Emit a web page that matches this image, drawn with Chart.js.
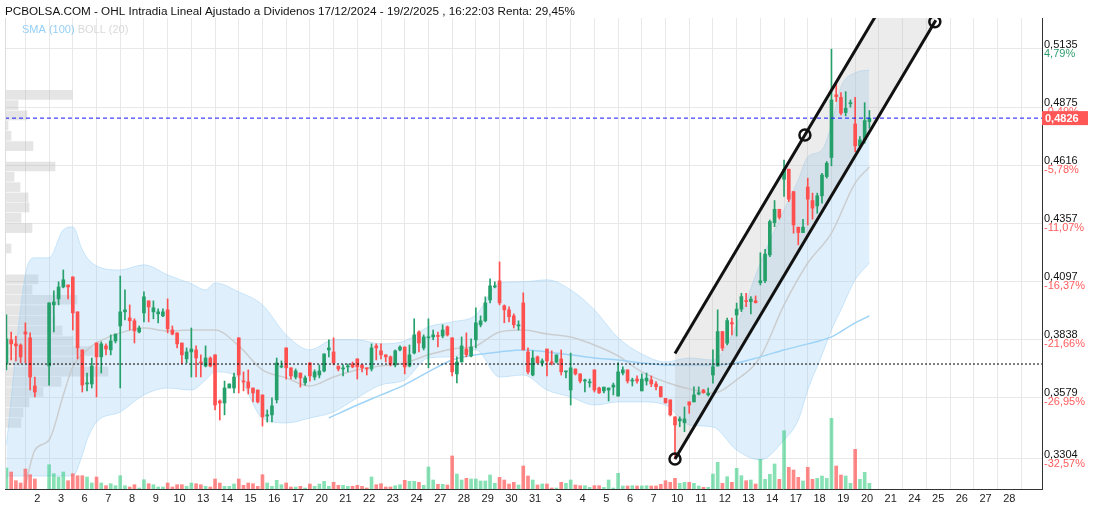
<!DOCTYPE html>
<html>
<head>
<meta charset="utf-8">
<script src="https://cdn.jsdelivr.net/npm/chart.js@4.4.0/dist/chart.umd.min.js"></script>
<style>
    html, body { margin: 0; padding: 0; background: #fff; }
</style>
</head>
<body>
<canvas id="grafico" width="1096" height="512"></canvas>
<script>
// Datos OHL intradia (5 velas por sesion), primer tramo = -4
const primerTramo = -4

const apertura = [
    .3728, .3836, .3818, .3813, .3871, .3845, .3630, null, null,
    .3719, .3992, .4019, .4072, .4081, .4117, .3961, .3791, .3639, .3639,
    .3822, .3760, .3809, .3791, .3831, .3898, .3961, .3934, .3921, .3871,
    .3956, .4010, .3961, .3952, .3943, .3970, .3880, .3867, .3822, .3751,
    .3782, .3791, .3737, .3719, .3755, .3769, .3563, .3554, .3621, .3621,
    .3845, .3652, .3648, .3621, .3612, .3590, .3496, .3501, .3568, .3715,
    .3800, .3711, .3670, .3688, .3644, .3733, .3670, .3679, .3697, .3791,
    .3782, .3719, .3706, .3715, .3728, .3751, .3724, .3711, .3706, .3809,
    .3787, .3769, .3760, .3724, .3791, .3804, .3719, .3777, .3871, .3800,
    .3845, .3849, .3853, .3853, .3894, .3845, .3684, .3737, .3795, .3764,
    .3836, .3903, .3921, .4014, .4072, .4099, .3988, .3970, .3943, .3898,
    .4001, .3782, .3679, .3760, .3733, .3795, .3737, .3737, .3751, .3693,
    .3612, .3706, .3684, .3652, .3644, .3702, .3621, .3608, .3612, .3625,
    .3585, .3688, .3702, .3652, .3661, .3608, .3652, .3657, .3639, .3627,
    .3575, .3568, .3492, .3474, .3466, .3559, .3559, .3594, .3612, .3590,
    .3679, .3719, .3873, .3821, .3913, .3947, .3973, .4011, .4007, .4010,
    .4091, .4100, .4215, .4359, .4419, .4553, .4598, .4498, .4339, .4315,
    .4518, .4458, .4434, .4479, .4565, .4650, .4930, .4919, .4851, .4890,
    .4800, .4702, .4729, .4810
]
const maximo = [
    .3948, .3871, .3853, .3818, .3912, .3867, .3670, null, null,
    .4001, .4055, .4095, .4148, .4081, .4117, .3961, .3791, .3688, .3755,
    .3822, .3827, .3818, .3858, .3862, .4121, .4059, .3992, .3930, .3898,
    .4050, .4010, .4010, .3974, .3974, .4019, .3898, .3867, .3822, .3800,
    .3889, .3809, .3769, .3809, .3760, .3769, .3568, .3652, .3639, .3688,
    .3845, .3693, .3702, .3621, .3612, .3590, .3523, .3577, .3755, .3742,
    .3800, .3711, .3706, .3688, .3675, .3733, .3702, .3724, .3773, .3836,
    .3845, .3719, .3724, .3728, .3737, .3751, .3724, .3711, .3818, .3818,
    .3818, .3769, .3764, .3791, .3809, .3804, .3813, .3930, .3876, .3858,
    .3930, .3880, .3871, .3903, .3898, .3845, .3760, .3849, .3867, .3840,
    .3979, .3943, .4028, .4108, .4095, .4184, .3992, .3983, .3952, .3921,
    .4046, .3800, .3787, .3764, .3751, .3795, .3787, .3769, .3791, .3697,
    .3777, .3706, .3684, .3661, .3661, .3702, .3625, .3625, .3621, .3643,
    .3733, .3715, .3702, .3665, .3675, .3684, .3688, .3675, .3650, .3627,
    .3575, .3568, .3492, .3492, .3536, .3559, .3626, .3626, .3615, .3621,
    .3791, .3970, .3873, .3933, .3933, .4000, .4044, .4044, .4029, .4032,
    .4225, .4240, .4371, .4458, .4419, .4639, .4598, .4498, .4339, .4374,
    .4558, .4491, .4491, .4580, .4632, .5134, .4989, .4940, .4944, .4907,
    .4919, .4743, .4895, .4860
]
const minimo = [
    .3702, .3746, .3742, .3733, .3733, .3612, .3581, null, null,
    .3634, .3871, .3992, .4068, .4019, .3880, .3751, .3603, .3608, .3621,
    .3581, .3688, .3769, .3769, .3822, .3621, .3925, .3880, .3822, .3867,
    .3916, .3916, .3930, .3912, .3939, .3867, .3858, .3800, .3728, .3733,
    .3670, .3670, .3670, .3715, .3715, .3523, .3478, .3501, .3621, .3599,
    .3599, .3608, .3594, .3559, .3554, .3451, .3469, .3469, .3554, .3711,
    .3661, .3661, .3661, .3625, .3634, .3652, .3657, .3666, .3693, .3760,
    .3724, .3697, .3675, .3693, .3711, .3661, .3693, .3679, .3697, .3746,
    .3751, .3737, .3719, .3715, .3787, .3684, .3715, .3773, .3782, .3791,
    .3711, .3836, .3804, .3845, .3853, .3675, .3644, .3737, .3760, .3760,
    .3800, .3894, .3916, .4001, .4068, .3992, .3912, .3916, .3889, .3880,
    .3791, .3684, .3675, .3733, .3719, .3675, .3724, .3733, .3679, .3666,
    .3545, .3679, .3644, .3603, .3625, .3603, .3597, .3599, .3563, .3590,
    .3585, .3679, .3643, .3630, .3643, .3608, .3634, .3627, .3612, .3580,
    .3553, .3496, .3304, .3448, .3426, .3508, .3559, .3590, .3597, .3585,
    .3642, .3719, .3788, .3813, .3858, .3853, .3962, .3984, .3952, .4000,
    .4081, .4091, .4207, .4341, .4375, .4476, .4453, .4312, .4260, .4315,
    .4349, .4375, .4401, .4446, .4558, .4613, .4900, .4840, .4836, .4875,
    .4676, .4692, .4714, .4781
]
const cierre = [
    .3840, .3818, .3809, .3760, .3862, .3670, .3603, null, null,
    .4001, .4005, .4072, .4104, .4072, .3956, .3800, .3634, .3644, .3719,
    .3760, .3818, .3795, .3831, .3862, .3961, .3970, .3921, .3876, .3889,
    .4028, .3983, .3979, .3961, .3961, .3885, .3862, .3818, .3769, .3782,
    .3795, .3755, .3733, .3755, .3719, .3545, .3554, .3621, .3639, .3670,
    .3679, .3648, .3621, .3599, .3559, .3492, .3501, .3541, .3733, .3719,
    .3711, .3675, .3697, .3666, .3666, .3675, .3693, .3697, .3773, .3800,
    .3733, .3706, .3711, .3719, .3715, .3715, .3711, .3706, .3800, .3800,
    .3769, .3760, .3728, .3787, .3804, .3715, .3769, .3858, .3822, .3849,
    .3849, .3858, .3851, .3880, .3858, .3693, .3737, .3809, .3769, .3804,
    .3912, .3921, .4001, .4077, .4077, .4001, .3970, .3939, .3903, .3903,
    .3791, .3693, .3755, .3733, .3742, .3742, .3733, .3769, .3693, .3697,
    .3711, .3684, .3652, .3657, .3648, .3612, .3599, .3625, .3621, .3634,
    .3693, .3702, .3652, .3657, .3652, .3661, .3665, .3639, .3627, .3582,
    .3555, .3501, .3456, .3483, .3483, .3545, .3590, .3600, .3600, .3597,
    .3716, .3873, .3799, .3922, .3907, .3973, .4029, .4007, .4018, .4002,
    .4100, .4219, .4364, .4419, .4383, .4598, .4464, .4349, .4315, .4339,
    .4464, .4424, .4479, .4572, .4625, .4907, .4922, .4848, .4870, .4895,
    .4702, .4729, .4815, .4826
]
// volumen en miles de titulos
const volumen = [
    210, 170, 83, 60, 200, 143, 100, null, null,
    243, 153, 120, 170, 83, 153, 133, 133, 120, 60,
    120, 60, 33, 53, 33, 133, 33, 20, 43, 10,
    93, 53, 43, 20, 20, 60, 20, 43, 43, 27,
    60, 53, 43, 27, 20, 100, 60, 27, 27, 50,
    100, 37, 60, 53, 27, 143, 60, 27, 87, 43,
    60, 20, 20, 27, 10, 50, 27, 50, 77, 27,
    67, 37, 37, 27, 27, 37, 27, 10, 120, 43,
    53, 20, 20, 33, 43, 87, 77, 77, 67, 37,
    220, 90, 47, 47, 40, 330, 150, 90, 107, 100,
    100, 80, 80, 140, 57, 117, 90, 50, 67, 40,
    230, 130, 90, 40, 50, 50, 10, 10, 67, 57,
    90, 40, 33, 33, 17, 33, 33, 17, 90, 10,
    157, 30, 30, 33, 30, 30, 33, 30, 30, 47,
    83, 67, 107, 57, 67, 67, 57, 30, 17, 17,
    150, 267, 57, 123, 67, 207, 133, 83, 90, 50,
    297, 97, 147, 250, 97, 583, 217, 190, 117, 80,
    217, 97, 107, 130, 107, 707, 230, 140, 130, 57,
    397, 97, 167, 57
]

const dias = ['2', '3', '6', '7', '8', '9', '10', '13', '14', '15', '16', '17', '20', '21', '22', '23', '24', '27', '28', '29', '30', '31',
    '3', '4', '5', '6', '7', '10', '11', '12', '13', '14', '17', '18', '19', '20', '21', '24', '25', '26', '27', '28']

const precioTicks = [0.5135, 0.4875, 0.4616, 0.4357, 0.4097, 0.3838, 0.3579, 0.3304]
const rentaTicks = ['4,79%', '-0,49%', '-5,78%', '-11,07%', '-16,37%', '-21,66%', '-26,95%', '-32,57%']
const ultimoPrecio = 0.4826
const precioReferencia = 0.3728

// Bandas de Bollinger (20)
const bollTramos = [-4, 0, 2, 5, 8, 10, 12, 13, 15, 20, 25, 30, 35, 38, 40, 45, 50, 55, 60, 65, 70, 75, 80, 85, 90, 95,
    100, 105, 110, 115, 120, 125, 130, 135, 140, 145, 150, 155, 160, 163, 165, 168, 170, 172, 175, 178]
const bollSup = [.3367, .4126, .4202, .4202, .4327, .4340, .4238, .4202, .4166, .4148, .4171, .4126, .4086, .4059, .4090,
    .4050, .3992, .3858, .3791, .3836, .3836, .3818, .3831, .3894, .3916, .3947, .4090, .4095, .4104, .4059, .3970,
    .3845, .3773, .3737, .3755, .3746, .3903, .4179, .4416, .4550, .4653, .4684, .4796, .4965, .5028, .5041]
const bollInf = [.3228, .3228, .3228, .3228, .3228, .3228, .3322, .3389, .3469, .3514, .3590, .3621, .3612, .3657, .3693,
    .3666, .3487, .3465, .3487, .3514, .3577, .3635, .3657, .3755, .3760, .3791, .3670, .3679, .3612, .3581, .3545,
    .3559, .3559, .3545, .3456, .3447, .3344, .3300, .3389, .3478, .3612, .3769, .3880, .3970, .4104, .4179]

const sma20Tramos = [-1, 0, 2, 5, 8, 10, 13, 15, 20, 25, 30, 35, 40, 45, 50, 55, 60, 65, 70, 75, 80, 85, 90, 95, 100,
    105, 110, 115, 120, 125, 130, 135, 140, 145, 150, 155, 160, 165, 170, 175, 178]
const sma20 = [.3121, .3188, .3344, .3389, .3590, .3715, .3791, .3822, .3867, .3889, .3876, .3880, .3880, .3809, .3702,
    .3666, .3630, .3670, .3702, .3719, .3733, .3769, .3795, .3809, .3871, .3880, .3862, .3849, .3813, .3764, .3693,
    .3648, .3617, .3599, .3657, .3760, .3992, .4179, .4313, .4537, .4608]

const sma100Tramos = [64, 70, 75, 80, 85, 90, 95, 100, 105, 110, 115, 120, 125, 130, 135, 140, 145, 150, 155, 160, 165, 170, 175, 178]
const sma100 = [.3487, .3545, .3590, .3635, .3693, .3746, .3769, .3782, .3791, .3782, .3769, .3755, .3746, .3733, .3724,
    .3724, .3724, .3733, .3760, .3791, .3818, .3849, .3912, .3943]

// Perfil de volumen por precio
const perfilPrecio = [.4930, .4884, .4838, .4793, .4747, .4701, .4655, .4610, .4564, .4518, .4472, .4427, .4381, .4335,
    .4289, .4244, .4198, .4152, .4106, .4060, .4015, .3969, .3923, .3877, .3831, .3786, .3740, .3694, .3648, .3603,
    .3557, .3511, .3465]
const perfilVol = [67, 13, 22, 3, 6, 28, 0, 50, 9, 15, 23, 24, 16, 27, 0, 6, 0, 0, 33, 27, 72, 48, 50, 57, 68, 88, 75,
    103, 56, 38, 24, 18, 16]

// Canal alcista dibujado
const canalTramos = [137, 192]
const canalSup = [0.3775, 0.5734]
const canalInf = [0.3304, 0.5263]
const anclasTramos = [137, 164.4, 191.8]
const anclas = [0.3304, 0.4751, 0.5256]

const tramoMin = -4.3
const tramoMax = 214.4
const precioMin = 0.3170
const precioMax = 0.5273

const verde = '#26a06b'
const rojo = '#ff5050'
const verdeVol = 'rgba(38,200,120,0.55)'
const rojoVol = 'rgba(255,80,80,0.68)'
const fuente = '"Liberation Sans", Arial, sans-serif'

var velas = []
for (let i = 0; i < apertura.length; i++) {
    if (apertura[i] === null) continue
    velas.push({ x: primerTramo + i, o: apertura[i], h: maximo[i], l: minimo[i], c: cierre[i], v: volumen[i] })
}

function puntos(tramos, valores) {
    return tramos.map((t, i) => ({ x: t, y: valores[i] }))
}
function linea(valor) {
    return [{ x: tramoMin, y: valor }, { x: tramoMax, y: valor }]
}
function colorVela(sube, baja) {
    return ctx => (ctx.raw && ctx.raw.sube) ? sube : baja
}

const textos = {
    id: 'textos',
    afterDatasetsDraw(chart) {
        const { ctx, chartArea, scales } = chart
        const y = scales.y
        ctx.save()
        ctx.font = '11px ' + fuente
        ctx.textAlign = 'left'
        ctx.textBaseline = 'alphabetic'
        precioTicks.forEach((p, i) => {
            const py = y.getPixelForValue(p)
            ctx.fillStyle = '#111'
            ctx.fillText(p.toFixed(4).replace('.', ','), chartArea.right + 2, py - 1)
            ctx.fillStyle = rentaTicks[i].startsWith('-') ? '#ff5b5b' : '#2e9d6e'
            ctx.fillText(rentaTicks[i], chartArea.right + 2, py + 8)
        })
        const py = y.getPixelForValue(ultimoPrecio)
        ctx.fillStyle = '#ff5656'
        ctx.fillRect(chartArea.right, py - 7, 46, 14)
        ctx.fillStyle = '#fff'
        ctx.font = 'bold 11px ' + fuente
        ctx.fillText(ultimoPrecio.toFixed(4).replace('.', ','), chartArea.right + 3, py + 4)

        ctx.font = '11px ' + fuente
        ctx.fillStyle = '#95cff5'
        ctx.fillText('SMA (100)', 22, 33)
        const w = ctx.measureText('SMA (100) ').width
        ctx.fillStyle = '#d9d9d9'
        ctx.fillText('BOLL (20)', 22 + w, 33)
        ctx.restore()
    },
    afterDraw(chart) {
        const { ctx, chartArea } = chart
        ctx.save()
        ctx.strokeStyle = '#ddd'
        ctx.lineWidth = 1
        ctx.beginPath()
        ctx.moveTo(chartArea.left + 0.5, chartArea.top)
        ctx.lineTo(chartArea.left + 0.5, chartArea.bottom)
        ctx.stroke()
        ctx.font = '11.7px ' + fuente
        ctx.fillStyle = '#111'
        ctx.textBaseline = 'alphabetic'
        ctx.fillText('PCBOLSA.COM - OHL Intradia Lineal Ajustado a Dividenos 17/12/2024 - 19/2/2025 , 16:22:03 Renta: 29,45%', 5, 15)
        ctx.restore()
    }
}

var ctx = document.getElementById('grafico')
var grafico = new Chart(ctx, {
    type: 'bar',
    data: {
        datasets: [
            {
                // perfil de volumen (barras horizontales)
                type: 'bar', indexAxis: 'y', xAxisID: 'xp', yAxisID: 'yp',
                data: perfilPrecio.map((p, i) => ({ x: perfilVol[i], y: p })),
                backgroundColor: 'rgba(170,170,170,0.3)',
                barThickness: 9, maxBarThickness: 9, grouped: false, order: 30
            },
            {
                type: 'line', data: puntos(bollTramos, bollSup), fill: '+1',
                backgroundColor: 'rgba(150,205,245,0.3)', borderColor: 'rgba(150,205,245,0.45)', borderWidth: 1,
                pointRadius: 0, cubicInterpolationMode: 'monotone', order: 28
            },
            {
                type: 'line', data: puntos(bollTramos, bollInf),
                borderColor: 'rgba(150,205,245,0.45)', borderWidth: 1,
                pointRadius: 0, cubicInterpolationMode: 'monotone', order: 28
            },
            {
                type: 'line', data: puntos(sma20Tramos, sma20),
                borderColor: 'rgba(200,200,200,0.85)', borderWidth: 1.5,
                pointRadius: 0, cubicInterpolationMode: 'monotone', order: 26
            },
            {
                type: 'line', data: puntos(sma100Tramos, sma100),
                borderColor: '#9ed3f7', borderWidth: 1.5,
                pointRadius: 0, cubicInterpolationMode: 'monotone', order: 25
            },
            {
                // relleno del canal
                type: 'line', data: puntos(canalTramos, canalSup), fill: '+1',
                backgroundColor: 'rgba(185,185,185,0.28)', borderWidth: 0, pointRadius: 0, order: 24
            },
            {
                type: 'line', data: puntos(canalTramos, canalInf),
                borderWidth: 0, pointRadius: 0, order: 24
            },
            {
                type: 'bar', yAxisID: 'yv',
                data: velas.map(v => ({ x: v.x, y: v.v, sube: v.c >= v.o })),
                backgroundColor: colorVela(verdeVol, rojoVol),
                barThickness: 3, maxBarThickness: 3, grouped: false, order: 15
            },
            {
                // mechas
                type: 'bar', yAxisID: 'y',
                data: velas.map(v => ({ x: v.x, y: [v.l, v.h], sube: v.c >= v.o })),
                backgroundColor: colorVela(verde, rojo),
                barThickness: 1, maxBarThickness: 1, grouped: false, order: 12
            },
            {
                // cuerpos
                type: 'bar', yAxisID: 'y',
                data: velas.map(v => ({ x: v.x, y: [v.o, v.c], sube: v.c >= v.o })),
                backgroundColor: colorVela(verde, rojo),
                barThickness: 3, maxBarThickness: 3, minBarLength: 1, grouped: false, order: 11
            },
            {
                type: 'line', data: linea(precioReferencia),
                borderColor: '#000', borderWidth: 1, borderDash: [2, 2], pointRadius: 0, order: 5
            },
            {
                type: 'line', data: linea(ultimoPrecio),
                borderColor: '#1515ff', borderWidth: 1, borderDash: [4, 3], pointRadius: 0, order: 5
            },
            {
                type: 'line', data: puntos(canalTramos, canalSup),
                borderColor: '#111', borderWidth: 3, pointRadius: 0, order: 2
            },
            {
                type: 'line', data: puntos(canalTramos, canalInf),
                borderColor: '#111', borderWidth: 3, pointRadius: 0, order: 2
            },
            {
                type: 'line', data: puntos(anclasTramos, anclas), showLine: false,
                pointRadius: 5.5, pointBorderWidth: 2.5, pointBorderColor: '#111',
                pointBackgroundColor: 'rgba(0,0,0,0)', order: 1
            }
        ]
    },
    options: {
        responsive: false,
        animation: false,
        devicePixelRatio: 1,
        layout: { padding: { left: 5, top: 18, right: 0, bottom: 0 }, autoPadding: false },
        plugins: {
            legend: { display: false },
            tooltip: { enabled: false },
            title: { display: false }
        },
        scales: {
            x: {
                type: 'linear', min: tramoMin, max: tramoMax, offset: false,
                afterBuildTicks: s => { s.ticks = dias.map((d, i) => ({ value: 2.5 + 5 * i })) },
                afterFit: s => { s.height = 23 },
                ticks: {
                    autoSkip: false, maxRotation: 0, padding: 3, color: '#222',
                    font: { family: fuente, size: 11 },
                    callback: (v, i) => dias[i]
                },
                grid: { offset: true, color: '#e8e8e8', drawTicks: false },
                border: { color: '#333' }
            },
            y: {
                type: 'linear', position: 'right', min: precioMin, max: precioMax, offset: false,
                afterBuildTicks: s => { s.ticks = precioTicks.map(v => ({ value: v })) },
                afterFit: s => { s.width = 54 },
                ticks: { display: false },
                grid: { offset: false, color: '#e8e8e8', drawTicks: false },
                border: { color: '#333' }
            },
            yp: {
                type: 'linear', display: false, min: precioMin, max: precioMax, offset: false,
                grid: { offset: false }
            },
            yv: { type: 'linear', display: false, min: 0, max: 4710, offset: false },
            xp: { type: 'linear', display: false, min: 0, max: 1037, offset: false }
        }
    },
    plugins: [textos]
})
</script>
</body>
</html>
